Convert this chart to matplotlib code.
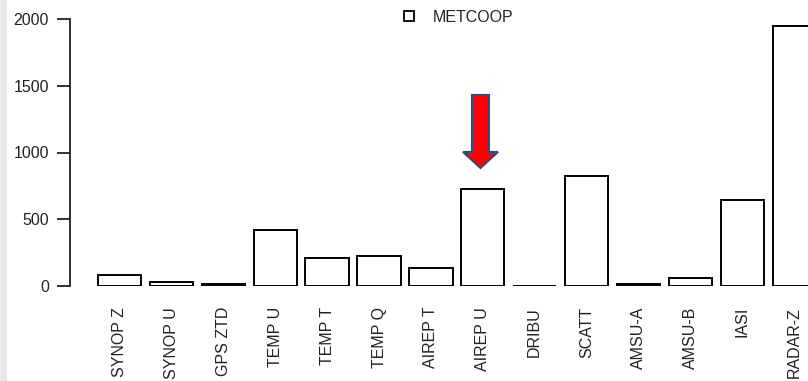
import matplotlib
matplotlib.use("Agg")
import matplotlib.pyplot as plt
from matplotlib.patches import Rectangle, FancyArrow, Patch

categories = ["SYNOP Z", "SYNOP U", "GPS ZTD", "TEMP U", "TEMP T", "TEMP Q",
              "AIREP T", "AIREP U", "DRIBU", "SCATT", "AMSU-A", "AMSU-B",
              "IASI", "RADAR-Z"]
values = [80, 28, 16, 420, 210, 225, 135, 727, 2, 824, 12, 60, 644, 1948]
yticks = [0, 500, 1000, 1500, 2000]
legend_label = "METCOOP"

plt.rcParams['font.family'] = ['Liberation Sans', 'DejaVu Sans']

W, H = 808, 381
fig = plt.figure(figsize=(W / 100, H / 100), dpi=100)
fig.patches.append(Rectangle((0, 0), 7 / W, 1, transform=fig.transFigure,
                             facecolor='#e8e8e8', edgecolor='none', zorder=0))

ax = fig.add_axes([70 / W, 95 / H, 738 / W, 267 / H])
ax.patch.set_alpha(0)

x = list(range(len(categories)))
ax.bar(x, values, width=0.833, facecolor='white', edgecolor='black',
       linewidth=1.4, clip_on=True)

ax.set_xlim(-0.954, 13.266)
ax.set_ylim(0, 2000)

for s in ['top', 'right', 'bottom']:
    ax.spines[s].set_visible(False)
ax.spines['left'].set_bounds(0, 2000)
ax.spines['left'].set_linewidth(1.3)
ax.spines['left'].set_color('#222222')

ax.set_yticks(yticks)
ax.set_yticklabels([str(v) for v in yticks])
ax.tick_params(axis='y', length=9.4, width=1.3, pad=5.8, labelsize=11.5,
               colors='#222222')

ax.set_xticks(x)
ax.set_xticklabels(categories, rotation=90, va='top', ha='center')
ax.tick_params(axis='x', length=0, pad=15, labelsize=11.5, colors='#222222')

# highlight arrow above AIREP U
ax.add_patch(FancyArrow(6.955, 1431, 0, -(1431 - 884), width=0.328,
                        head_width=0.674, head_length=120,
                        length_includes_head=True, facecolor='#ff0000',
                        edgecolor='#2f4b7c', linewidth=1.5, zorder=5))

handle = Patch(facecolor='white', edgecolor='black', linewidth=1.3)
fig.legend(handles=[handle], labels=[legend_label], loc='center left',
           bbox_to_anchor=(404 / W, 1 - 17 / H), frameon=False,
           fontsize=11.5, handlelength=0.62, handleheight=0.62,
           handletextpad=1.2, borderpad=0, borderaxespad=0,
           labelcolor='#222222')

fig.savefig("out.png", dpi=100)
